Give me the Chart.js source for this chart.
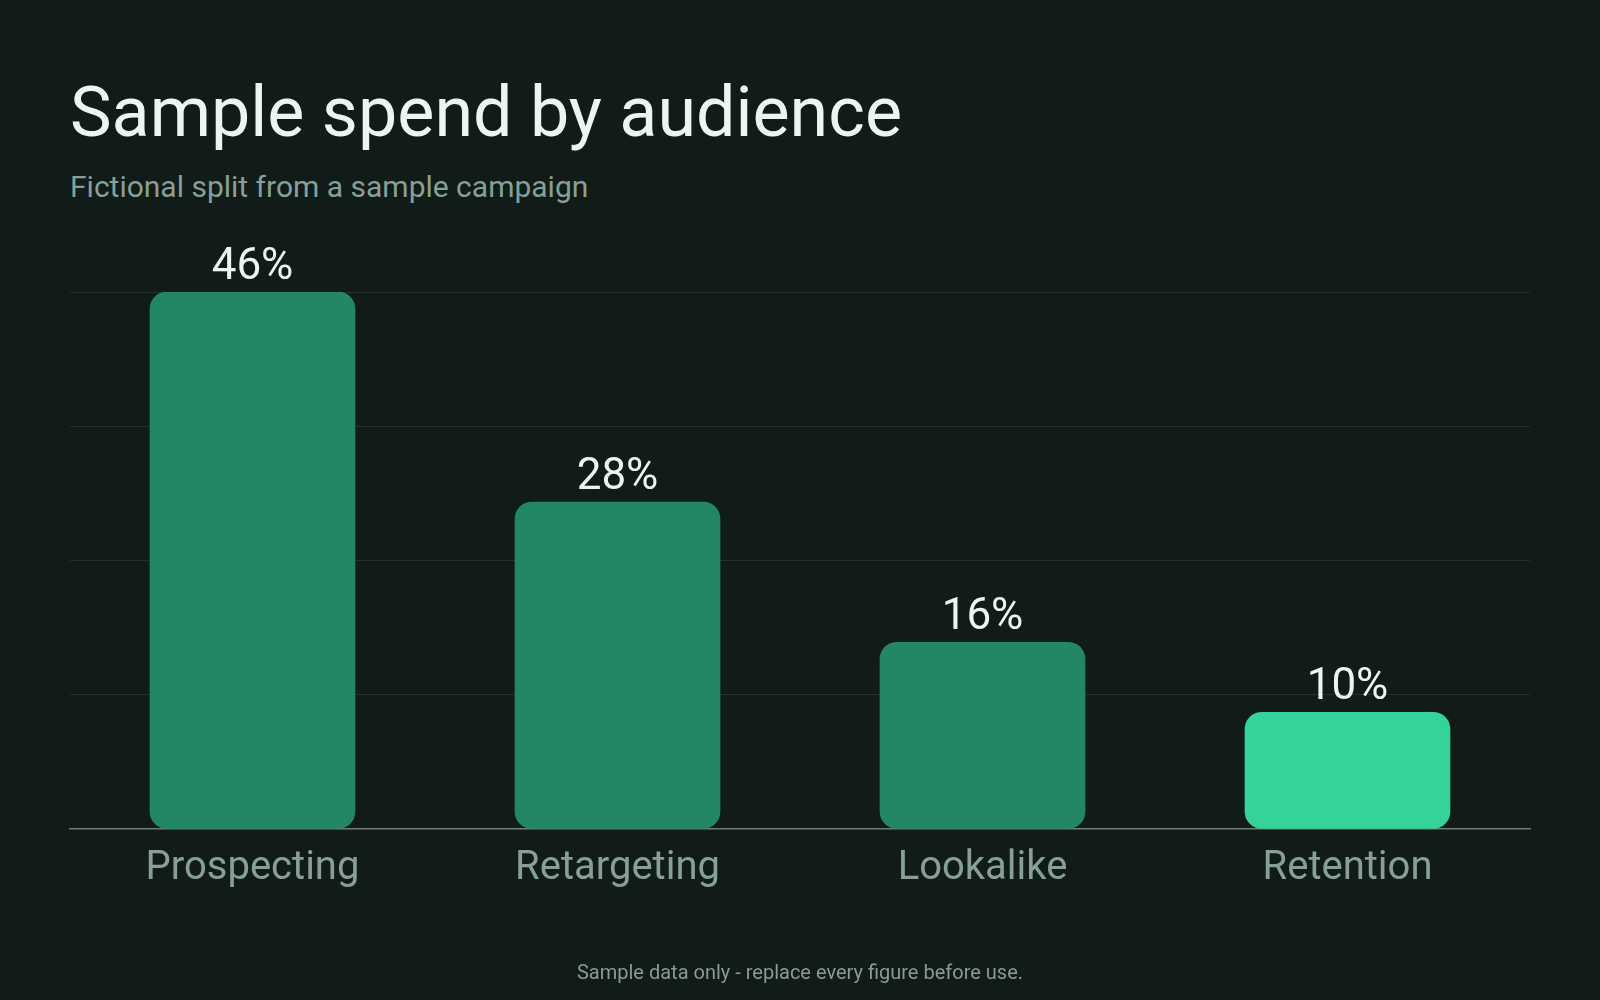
<!DOCTYPE html>
<html>
<head>
<meta charset="utf-8">
<script src="https://cdn.jsdelivr.net/npm/chart.js@4.4.1/dist/chart.umd.min.js"></script>
<style>
  html, body { margin: 0; padding: 0; background: #111b18; }
  body { width: 1600px; height: 1000px; position: relative; overflow: hidden; font-family: Roboto, "Noto Sans", sans-serif; }
  .txt { position: absolute; line-height: 1; white-space: nowrap; }
  #title { left: 70px; top: 77px; font-size: 70px; color: #eef4f1; }
  #subtitle { left: 70px; top: 172px; font-size: 30px; color: #86a097; }
  #footer { left: 0; width: 1600px; text-align: center; top: 962px; font-size: 20px; color: #8a9a94; }
  #chart { position: absolute; left: 0; top: 0; }
</style>
</head>
<body>
<div id="title" class="txt">Sample spend by audience</div>
<div id="subtitle" class="txt">Fictional split from a sample campaign</div>
<canvas id="chart" width="1600" height="1000"></canvas>
<div id="footer" class="txt">Sample data only - replace every figure before use.</div>
<script>
    // Data
    const audiences = ['Prospecting', 'Retargeting', 'Lookalike', 'Retention'];
    const spendShare = [46, 28, 16, 10]; // percent of spend
    const barColors = ['#238765', '#238765', '#238765', '#34d399'];
    const yTicks = [0, 11.5, 23, 34.5, 46]; // gridline positions

    const gridColor = '#25302c';
    const axisColor = '#707d78';

    // Value labels above each bar
    const valueLabels = {
        id: 'valueLabels',
        afterDatasetsDraw(chart) {
            const ctx = chart.ctx;
            const meta = chart.getDatasetMeta(0);
            ctx.save();
            ctx.font = '44px Roboto, "Noto Sans", sans-serif';
            ctx.fillStyle = '#eef4f1';
            ctx.textAlign = 'center';
            ctx.textBaseline = 'alphabetic';
            meta.data.forEach((bar, i) => {
                ctx.fillText(spendShare[i] + '%', bar.x, bar.y - 13);
            });
            ctx.restore();
        }
    };

    const config = {
        type: 'bar',
        data: {
            labels: audiences,
            datasets: [{
                data: spendShare,
                backgroundColor: barColors,
                borderWidth: 0,
                borderRadius: 17,
                borderSkipped: false,
                barThickness: 205
            }]
        },
        options: {
            responsive: false,
            animation: false,
            layout: {
                padding: { left: 70, right: 70, top: 292, bottom: 0 }
            },
            plugins: {
                legend: { display: false },
                tooltip: { enabled: false }
            },
            scales: {
                y: {
                    min: 0,
                    max: 46,
                    afterBuildTicks: (scale) => {
                        scale.ticks = yTicks.map(v => ({ value: v }));
                    },
                    ticks: { display: false },
                    border: { display: false },
                    grid: {
                        drawTicks: false,
                        lineWidth: 1,
                        color: (c) => c.tick && c.tick.value === 0 ? 'rgba(0,0,0,0)' : gridColor
                    }
                },
                x: {
                    afterFit: (scale) => { scale.height = 171; },
                    grid: { display: false, drawTicks: false },
                    border: { display: true, color: axisColor, width: 1.5 },
                    ticks: {
                        color: '#86a097',
                        padding: 16,
                        font: { family: 'Roboto, "Noto Sans", sans-serif', size: 40 }
                    }
                }
            }
        },
        plugins: [valueLabels]
    };

    new Chart(document.getElementById('chart').getContext('2d'), config);
</script>
</body>
</html>
